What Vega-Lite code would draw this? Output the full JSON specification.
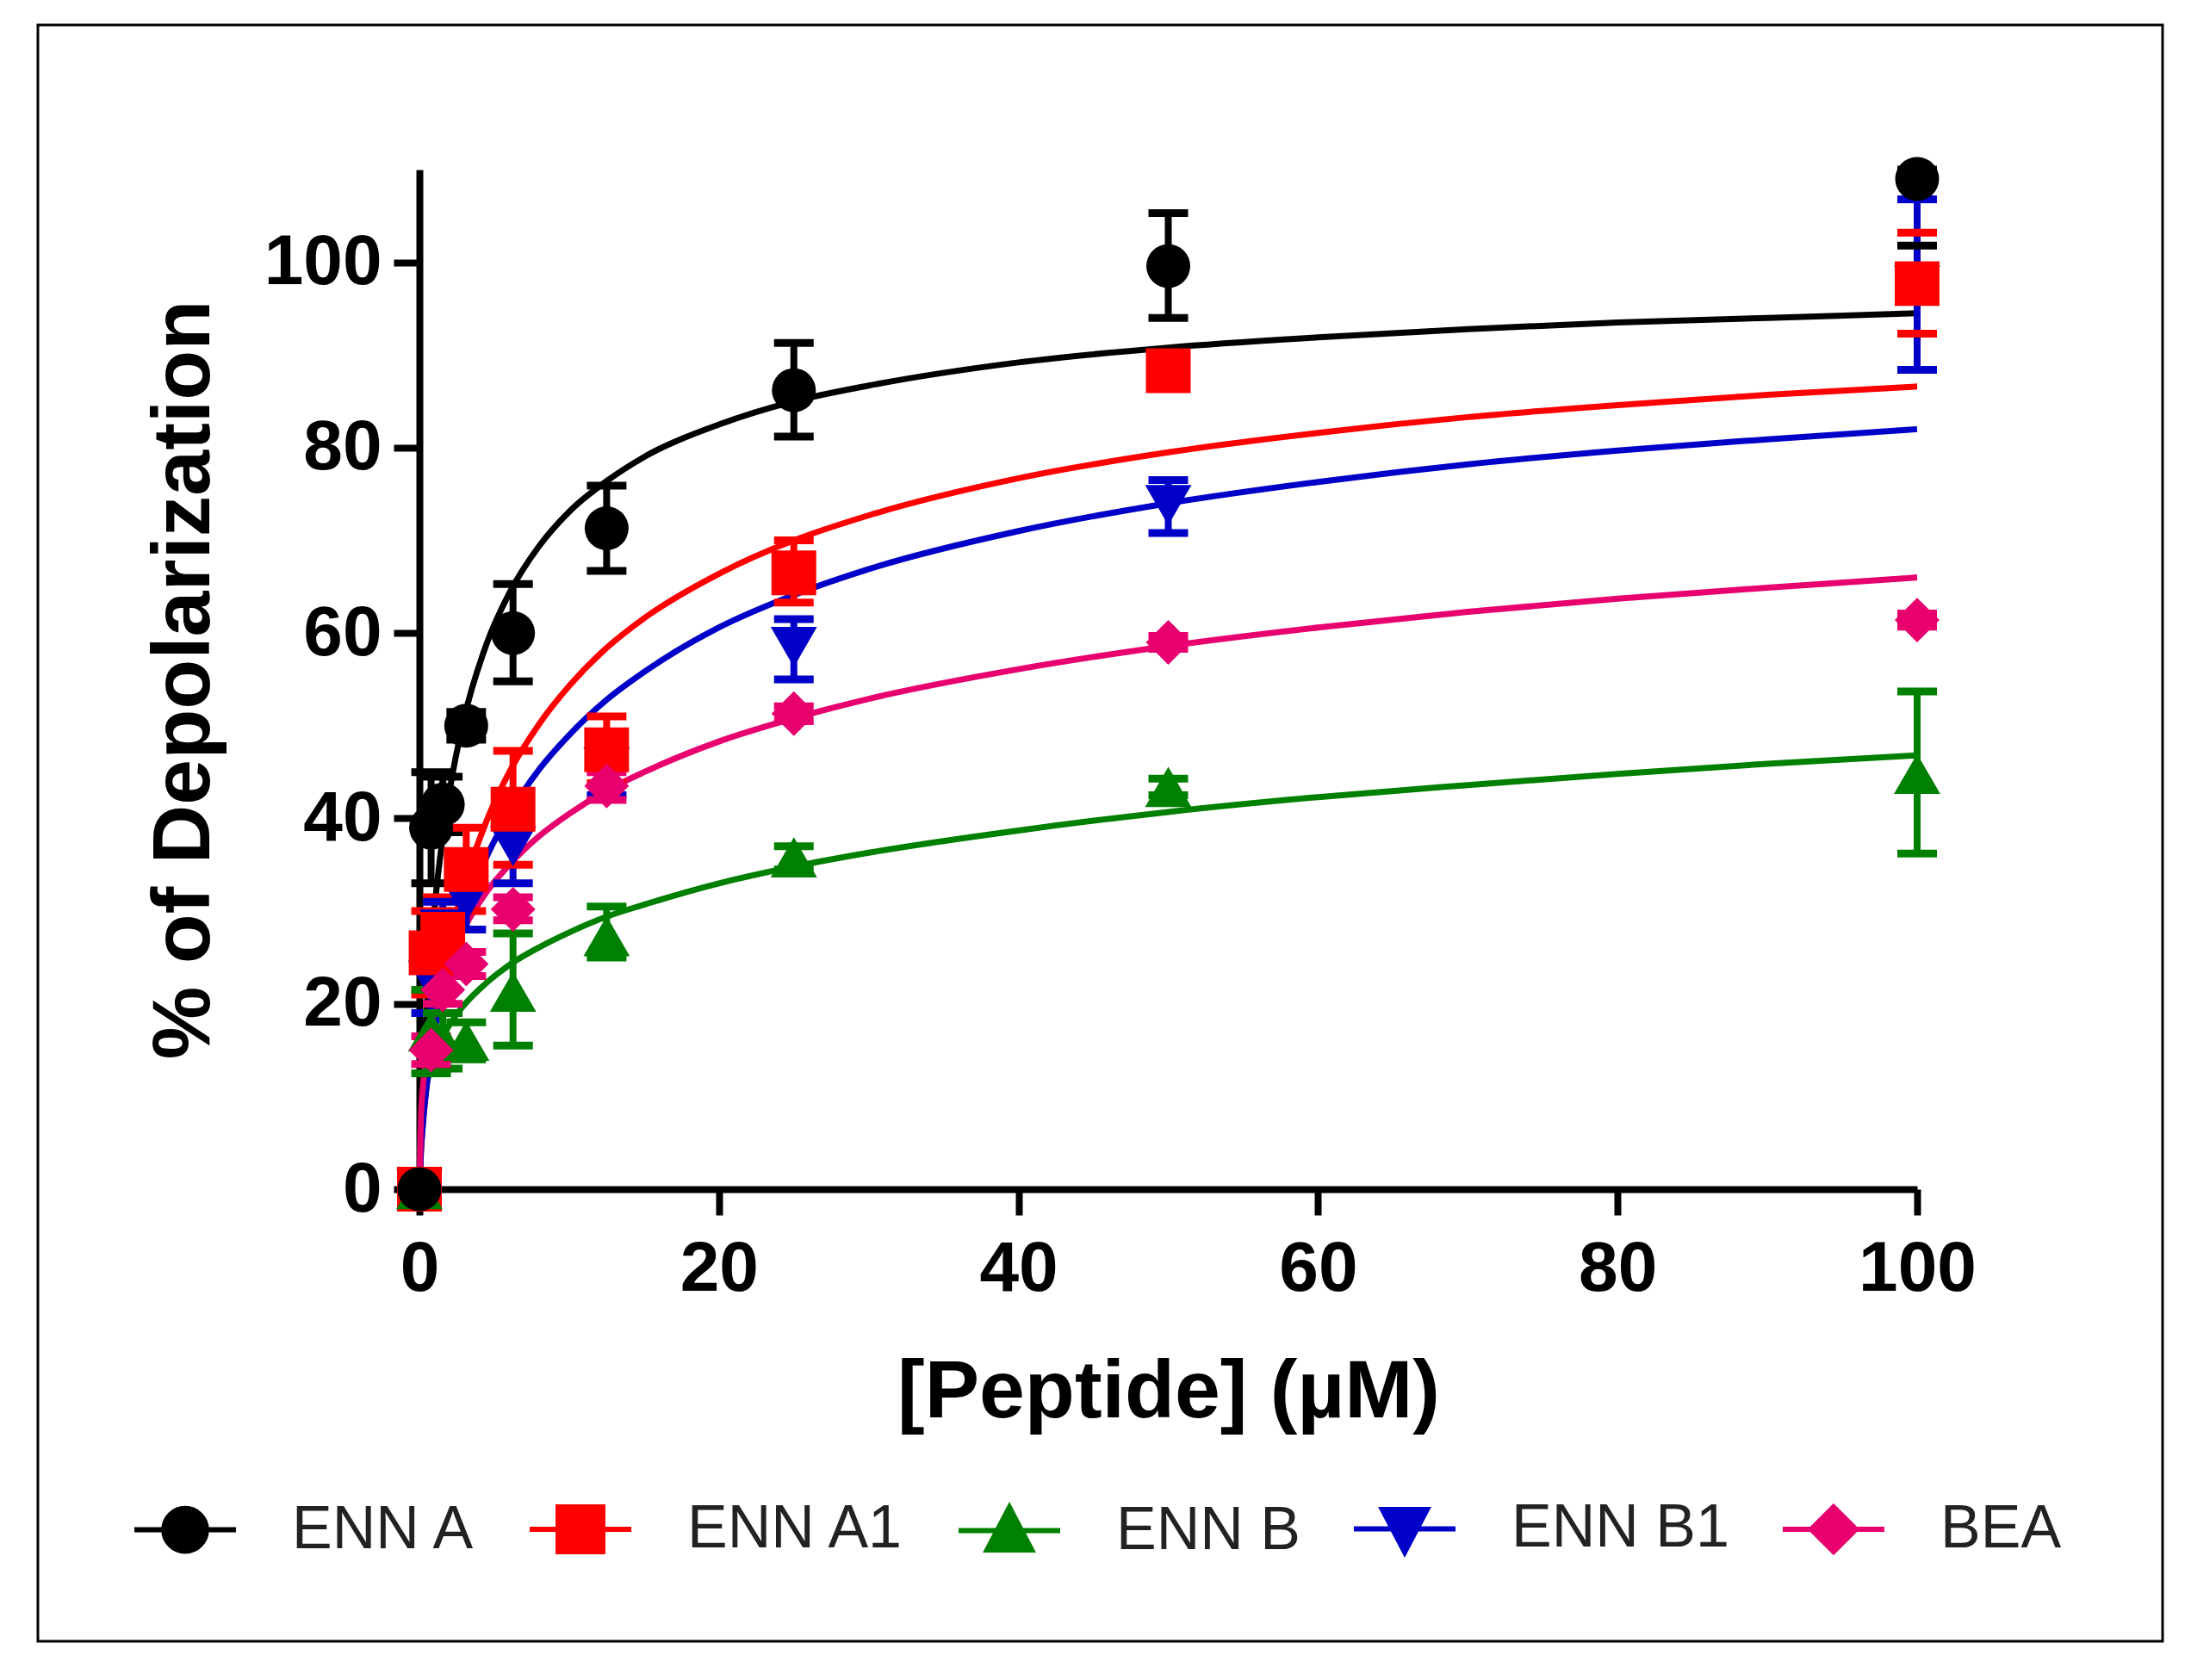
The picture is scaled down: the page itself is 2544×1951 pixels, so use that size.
{
  "$schema": "https://vega.github.io/schema/vega-lite/v6.json",
  "description": "Percent of membrane depolarization versus peptide concentration, five enniatin/beauvericin series with fitted curves.",
  "width": 2467,
  "height": 1877,
  "autosize": "none",
  "padding": {"left": 44, "top": 29, "right": 33, "bottom": 45},
  "background": "white",
  "config": {
    "view": {"stroke": "#000000", "strokeWidth": 3},
    "font": "Liberation Sans"
  },
  "datasets": {
    "curves": [
      {"series": "ENN A", "x": 0, "y": 0}, {"series": "ENN A", "x": 0.1, "y": 6.4}, {"series": "ENN A", "x": 0.25, "y": 12.4}, {"series": "ENN A", "x": 0.5, "y": 19.8}, {"series": "ENN A", "x": 1, "y": 30.1}, {"series": "ENN A", "x": 2, "y": 42.8}, {"series": "ENN A", "x": 3, "y": 50.9}, {"series": "ENN A", "x": 4.5, "y": 58.9}, {"series": "ENN A", "x": 6, "y": 64.3}, {"series": "ENN A", "x": 8, "y": 69.4}, {"series": "ENN A", "x": 10, "y": 73.1}, {"series": "ENN A", "x": 12.5, "y": 76.4}, {"series": "ENN A", "x": 15, "y": 79.0}, {"series": "ENN A", "x": 20, "y": 82.5}, {"series": "ENN A", "x": 25, "y": 85.0}, {"series": "ENN A", "x": 30, "y": 86.7}, {"series": "ENN A", "x": 40, "y": 89.2}, {"series": "ENN A", "x": 50, "y": 90.8}, {"series": "ENN A", "x": 60, "y": 91.9}, {"series": "ENN A", "x": 70, "y": 92.8}, {"series": "ENN A", "x": 80, "y": 93.5}, {"series": "ENN A", "x": 90, "y": 94.0}, {"series": "ENN A", "x": 100, "y": 94.5},
      {"series": "ENN A1", "x": 0, "y": 0}, {"series": "ENN A1", "x": 0.1, "y": 3.9}, {"series": "ENN A1", "x": 0.25, "y": 7.3}, {"series": "ENN A1", "x": 0.5, "y": 11.6}, {"series": "ENN A1", "x": 1, "y": 18.0}, {"series": "ENN A1", "x": 2, "y": 26.7}, {"series": "ENN A1", "x": 3, "y": 32.9}, {"series": "ENN A1", "x": 4.5, "y": 39.8}, {"series": "ENN A1", "x": 6, "y": 45.0}, {"series": "ENN A1", "x": 8, "y": 50.2}, {"series": "ENN A1", "x": 10, "y": 54.3}, {"series": "ENN A1", "x": 12.5, "y": 58.4}, {"series": "ENN A1", "x": 15, "y": 61.6}, {"series": "ENN A1", "x": 20, "y": 66.4}, {"series": "ENN A1", "x": 25, "y": 70.0}, {"series": "ENN A1", "x": 30, "y": 72.7}, {"series": "ENN A1", "x": 40, "y": 76.7}, {"series": "ENN A1", "x": 50, "y": 79.5}, {"series": "ENN A1", "x": 60, "y": 81.6}, {"series": "ENN A1", "x": 70, "y": 83.3}, {"series": "ENN A1", "x": 80, "y": 84.6}, {"series": "ENN A1", "x": 90, "y": 85.7}, {"series": "ENN A1", "x": 100, "y": 86.6},
      {"series": "ENN B", "x": 0, "y": 0}, {"series": "ENN B", "x": 0.1, "y": 6.8}, {"series": "ENN B", "x": 0.25, "y": 9.2}, {"series": "ENN B", "x": 0.5, "y": 11.5}, {"series": "ENN B", "x": 1, "y": 14.3}, {"series": "ENN B", "x": 2, "y": 17.7}, {"series": "ENN B", "x": 3, "y": 19.9}, {"series": "ENN B", "x": 4.5, "y": 22.3}, {"series": "ENN B", "x": 6, "y": 24.2}, {"series": "ENN B", "x": 8, "y": 26.1}, {"series": "ENN B", "x": 10, "y": 27.7}, {"series": "ENN B", "x": 12.5, "y": 29.4}, {"series": "ENN B", "x": 15, "y": 30.7}, {"series": "ENN B", "x": 20, "y": 33.0}, {"series": "ENN B", "x": 25, "y": 34.8}, {"series": "ENN B", "x": 30, "y": 36.3}, {"series": "ENN B", "x": 40, "y": 38.7}, {"series": "ENN B", "x": 50, "y": 40.7}, {"series": "ENN B", "x": 60, "y": 42.3}, {"series": "ENN B", "x": 70, "y": 43.6}, {"series": "ENN B", "x": 80, "y": 44.8}, {"series": "ENN B", "x": 90, "y": 45.9}, {"series": "ENN B", "x": 100, "y": 46.8},
      {"series": "ENN B1", "x": 0, "y": 0}, {"series": "ENN B1", "x": 0.1, "y": 4.1}, {"series": "ENN B1", "x": 0.25, "y": 7.4}, {"series": "ENN B1", "x": 0.5, "y": 11.3}, {"series": "ENN B1", "x": 1, "y": 16.9}, {"series": "ENN B1", "x": 2, "y": 24.5}, {"series": "ENN B1", "x": 3, "y": 29.9}, {"series": "ENN B1", "x": 4.5, "y": 35.9}, {"series": "ENN B1", "x": 6, "y": 40.5}, {"series": "ENN B1", "x": 8, "y": 45.3}, {"series": "ENN B1", "x": 10, "y": 49.0}, {"series": "ENN B1", "x": 12.5, "y": 52.8}, {"series": "ENN B1", "x": 15, "y": 55.8}, {"series": "ENN B1", "x": 20, "y": 60.6}, {"series": "ENN B1", "x": 25, "y": 64.1}, {"series": "ENN B1", "x": 30, "y": 66.9}, {"series": "ENN B1", "x": 40, "y": 71.0}, {"series": "ENN B1", "x": 50, "y": 74.0}, {"series": "ENN B1", "x": 60, "y": 76.3}, {"series": "ENN B1", "x": 70, "y": 78.2}, {"series": "ENN B1", "x": 80, "y": 79.7}, {"series": "ENN B1", "x": 90, "y": 80.9}, {"series": "ENN B1", "x": 100, "y": 82.0},
      {"series": "BEA", "x": 0, "y": 0}, {"series": "BEA", "x": 0.1, "y": 7.7}, {"series": "BEA", "x": 0.25, "y": 11.3}, {"series": "BEA", "x": 0.5, "y": 14.8}, {"series": "BEA", "x": 1, "y": 19.3}, {"series": "BEA", "x": 2, "y": 24.7}, {"series": "BEA", "x": 3, "y": 28.2}, {"series": "BEA", "x": 4.5, "y": 32.1}, {"series": "BEA", "x": 6, "y": 35.0}, {"series": "BEA", "x": 8, "y": 38.1}, {"series": "BEA", "x": 10, "y": 40.5}, {"series": "BEA", "x": 12.5, "y": 43.0}, {"series": "BEA", "x": 15, "y": 45.0}, {"series": "BEA", "x": 20, "y": 48.3}, {"series": "BEA", "x": 25, "y": 50.8}, {"series": "BEA", "x": 30, "y": 52.9}, {"series": "BEA", "x": 40, "y": 56.1}, {"series": "BEA", "x": 50, "y": 58.6}, {"series": "BEA", "x": 60, "y": 60.6}, {"series": "BEA", "x": 70, "y": 62.3}, {"series": "BEA", "x": 80, "y": 63.7}, {"series": "BEA", "x": 90, "y": 64.9}, {"series": "BEA", "x": 100, "y": 66.0}
    ],
    "points": [
      {"series": "ENN A", "x": 0, "y": 0},
      {"series": "ENN A", "x": 0.78, "y": 39, "lo": 33, "hi": 45},
      {"series": "ENN A", "x": 1.56, "y": 41.5, "lo": 38.5, "hi": 44.5},
      {"series": "ENN A", "x": 3.125, "y": 50, "lo": 48.5, "hi": 51.5},
      {"series": "ENN A", "x": 6.25, "y": 60, "lo": 54.8, "hi": 65.3},
      {"series": "ENN A", "x": 12.5, "y": 71.3, "lo": 66.7, "hi": 75.9},
      {"series": "ENN A", "x": 25, "y": 86.2, "lo": 81.2, "hi": 91.3},
      {"series": "ENN A", "x": 50, "y": 99.6, "lo": 94, "hi": 105.3},
      {"series": "ENN A", "x": 100, "y": 109, "lo": 101.8, "hi": 110},
      {"series": "ENN A1", "x": 0, "y": 0},
      {"series": "ENN A1", "x": 0.78, "y": 25.5, "lo": 21, "hi": 30},
      {"series": "ENN A1", "x": 1.56, "y": 27.5, "lo": 23.5, "hi": 31.5},
      {"series": "ENN A1", "x": 3.125, "y": 34.5, "lo": 30, "hi": 39},
      {"series": "ENN A1", "x": 6.25, "y": 41, "lo": 35, "hi": 47.3},
      {"series": "ENN A1", "x": 12.5, "y": 47.4, "lo": 43.8, "hi": 51},
      {"series": "ENN A1", "x": 25, "y": 66.5, "lo": 63.3, "hi": 70},
      {"series": "ENN A1", "x": 50, "y": 88.3, "lo": 86.5, "hi": 90},
      {"series": "ENN A1", "x": 100, "y": 97.7, "lo": 92.3, "hi": 103.2},
      {"series": "ENN B", "x": 0, "y": 0},
      {"series": "ENN B", "x": 0.78, "y": 17, "lo": 12.5, "hi": 21.5},
      {"series": "ENN B", "x": 1.56, "y": 16, "lo": 13, "hi": 19},
      {"series": "ENN B", "x": 3.125, "y": 16, "lo": 14, "hi": 18},
      {"series": "ENN B", "x": 6.25, "y": 21.3, "lo": 15.5, "hi": 27.6},
      {"series": "ENN B", "x": 12.5, "y": 27.3, "lo": 25, "hi": 30.5},
      {"series": "ENN B", "x": 25, "y": 35.8, "lo": 34.5, "hi": 37},
      {"series": "ENN B", "x": 50, "y": 43.4, "lo": 42.5, "hi": 44.3},
      {"series": "ENN B", "x": 100, "y": 44.8, "lo": 36.2, "hi": 53.7},
      {"series": "ENN B1", "x": 0, "y": 0},
      {"series": "ENN B1", "x": 0.78, "y": 22.5, "lo": 19, "hi": 26},
      {"series": "ENN B1", "x": 1.56, "y": 28, "lo": 25, "hi": 31},
      {"series": "ENN B1", "x": 3.125, "y": 31, "lo": 28, "hi": 34},
      {"series": "ENN B1", "x": 6.25, "y": 37, "lo": 33, "hi": 40.5},
      {"series": "ENN B1", "x": 12.5, "y": 45.5, "lo": 42.5, "hi": 48.5},
      {"series": "ENN B1", "x": 25, "y": 58.5, "lo": 55, "hi": 61.5},
      {"series": "ENN B1", "x": 50, "y": 73.8, "lo": 70.8, "hi": 76.5},
      {"series": "ENN B1", "x": 100, "y": 97.5, "lo": 88.4, "hi": 106.8},
      {"series": "BEA", "x": 0, "y": 0},
      {"series": "BEA", "x": 0.78, "y": 15, "lo": 13.5, "hi": 16.5},
      {"series": "BEA", "x": 1.56, "y": 21.5, "lo": 20, "hi": 23},
      {"series": "BEA", "x": 3.125, "y": 24.3, "lo": 23, "hi": 25.6},
      {"series": "BEA", "x": 6.25, "y": 30.2, "lo": 29, "hi": 31.5},
      {"series": "BEA", "x": 12.5, "y": 43.5, "lo": 42, "hi": 45},
      {"series": "BEA", "x": 25, "y": 51.3, "lo": 50.5, "hi": 52.1},
      {"series": "BEA", "x": 50, "y": 59, "lo": 58.3, "hi": 59.7},
      {"series": "BEA", "x": 100, "y": 61.4, "lo": 60.7, "hi": 62.1}
    ]
  },
  "encoding": {
    "x": {
      "field": "x", "type": "quantitative",
      "scale": {"domain": [0, 100], "range": [443, 2182], "nice": false, "zero": false},
      "axis": {
        "orient": "bottom", "offset": -525,
        "values": [0, 20, 40, 60, 80, 100],
        "grid": false,
        "domainColor": "#000000", "domainWidth": 8,
        "tickColor": "#000000", "tickWidth": 8, "tickSize": 30,
        "labelFont": "Liberation Sans", "labelFontWeight": "bold", "labelFontSize": 82,
        "labelColor": "#000000", "labelPadding": 22, "labelFlush": false,
        "title": "[Peptide] (µM)",
        "titleFont": "Liberation Sans", "titleFontWeight": "bold", "titleFontSize": 95,
        "titleColor": "#000000", "titlePadding": 56
      }
    },
    "color": {
      "field": "series", "type": "nominal",
      "scale": {
        "domain": ["ENN A", "ENN A1", "ENN B", "ENN B1", "BEA"],
        "range": ["#000000", "#FF0000", "#008000", "#0000C8", "#E8006E"]
      },
      "legend": null
    }
  },
  "layer": [
    {
      "data": {"name": "curves"},
      "mark": {"type": "line", "interpolate": "monotone", "strokeWidth": 7, "clip": false},
      "encoding": {
        "y": {
          "field": "y", "type": "quantitative",
          "scale": {"domain": [0, 110], "range": [1352, 168], "nice": false, "zero": false},
          "axis": {
            "orient": "left", "offset": -443,
            "values": [0, 20, 40, 60, 80, 100],
            "grid": false,
            "domainColor": "#000000", "domainWidth": 8,
            "tickColor": "#000000", "tickWidth": 8, "tickSize": 30,
            "labelFont": "Liberation Sans", "labelFontWeight": "bold", "labelFontSize": 82,
            "labelColor": "#000000", "labelPadding": 14, "labelFlush": false,
            "title": "% of Depolarization",
            "titleFont": "Liberation Sans", "titleFontWeight": "bold", "titleFontSize": 95,
            "titleColor": "#000000", "titlePadding": 44
          }
        },
        "color": {
          "field": "series", "type": "nominal",
          "legend": {
            "orient": "none", "legendX": 109, "legendY": 1684,
            "direction": "horizontal", "title": null,
            "labelFont": "Liberation Sans",
            "labelFontSize": 70, "labelColor": "#222222", "labelLimit": 0,
            "symbolType": "M-1,0L1,0",
            "symbolSize": 13924, "symbolStrokeWidth": 6,
            "labelOffset": 62, "columnPadding": 50,
            "encode": {
              "symbols": {
                "update": {
                  "shape": {"signal": "datum.value === 'ENN A' ? 'M-1,0L1,0M0.42,0A0.42,0.42,0,1,1,-0.42,0A0.42,0.42,0,1,1,0.42,0Z' : datum.value === 'ENN A1' ? 'M-1,0L1,0M-0.44,-0.44L0.44,-0.44L0.44,0.44L-0.44,0.44Z' : datum.value === 'ENN B' ? 'M-1,0L1,0M0,-0.46L0.44,0.38L-0.44,0.38Z' : datum.value === 'ENN B1' ? 'M-1,0L1,0M0,0.46L0.44,-0.38L-0.44,-0.38Z' : 'M-1,0L1,0M0,-0.44L0.44,0L0,0.44L-0.44,0Z'"},
                  "fill": {"scale": "color", "field": "value"},
                  "stroke": {"scale": "color", "field": "value"},
                  "strokeWidth": {"value": 6},
                  "opacity": {"value": 1}
                }
              }
            }
          }
        }
      }
    },
    {
      "data": {"name": "points"},
      "transform": [{"filter": "isValid(datum.lo)"}],
      "mark": {"type": "rule", "strokeWidth": 8, "clip": false},
      "encoding": {
        "y": {"field": "lo", "type": "quantitative"},
        "y2": {"field": "hi"}
      }
    },
    {
      "data": {"name": "points"},
      "transform": [{"filter": "isValid(datum.lo)"}],
      "mark": {"type": "tick", "orient": "horizontal", "size": 46, "thickness": 9, "opacity": 1, "clip": false},
      "encoding": {
        "y": {"field": "lo", "type": "quantitative"}
      }
    },
    {
      "data": {"name": "points"},
      "transform": [{"filter": "isValid(datum.hi)"}],
      "mark": {"type": "tick", "orient": "horizontal", "size": 46, "thickness": 9, "opacity": 1, "clip": false},
      "encoding": {
        "y": {"field": "hi", "type": "quantitative"}
      }
    },
    {
      "data": {"name": "points"},
      "transform": [{"filter": "datum.series === 'ENN A'"}],
      "mark": {"type": "point", "shape": "circle", "filled": true, "opacity": 1, "size": 2600, "strokeWidth": 0, "clip": false},
      "encoding": {"y": {"field": "y", "type": "quantitative"}}
    },
    {
      "data": {"name": "points"},
      "transform": [{"filter": "datum.series === 'ENN B1'"}],
      "mark": {"type": "point", "shape": "triangle-down", "filled": true, "opacity": 1, "size": 2900, "strokeWidth": 0, "clip": false},
      "encoding": {"y": {"field": "y", "type": "quantitative"}}
    },
    {
      "data": {"name": "points"},
      "transform": [{"filter": "datum.series === 'ENN A1'"}],
      "mark": {"type": "point", "shape": "square", "filled": true, "opacity": 1, "size": 2700, "strokeWidth": 0, "clip": false},
      "encoding": {"y": {"field": "y", "type": "quantitative"}}
    },
    {
      "data": {"name": "points"},
      "transform": [{"filter": "datum.series === 'ENN B'"}],
      "mark": {"type": "point", "shape": "triangle-up", "filled": true, "opacity": 1, "size": 2900, "strokeWidth": 0, "clip": false},
      "encoding": {"y": {"field": "y", "type": "quantitative"}}
    },
    {
      "data": {"name": "points"},
      "transform": [{"filter": "datum.series === 'BEA'"}],
      "mark": {"type": "point", "shape": "diamond", "filled": true, "opacity": 1, "size": 2700, "strokeWidth": 0, "clip": false},
      "encoding": {"y": {"field": "y", "type": "quantitative"}}
    },
    {
      "data": {"name": "points"},
      "transform": [{"filter": "datum.series === 'ENN A' && datum.x === 0"}],
      "mark": {"type": "point", "shape": "circle", "filled": true, "opacity": 1, "size": 2600, "strokeWidth": 0, "clip": false},
      "encoding": {"y": {"field": "y", "type": "quantitative"}}
    }
  ]
}
